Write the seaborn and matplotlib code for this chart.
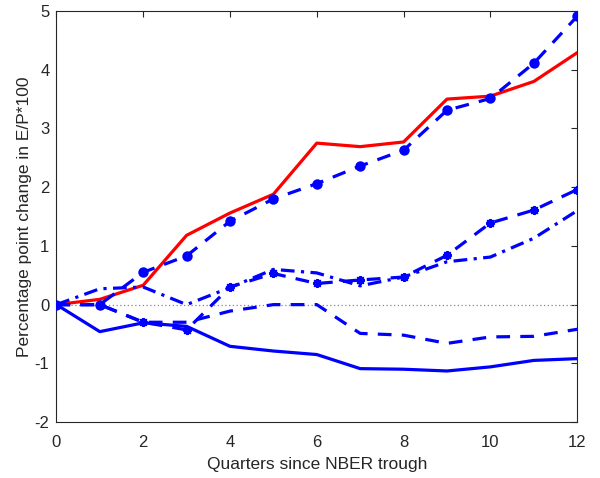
import numpy as np
import pandas as pd
import matplotlib
matplotlib.use("Agg")
import matplotlib.pyplot as plt
import seaborn as sns

sns.set_style("white")
plt.rcParams["font.family"] = ["Liberation Sans", "DejaVu Sans"]

quarters = np.arange(13)

# Percentage point change in E/P*100 by quarter since the trough
ep_actual = [0, 0.09, 0.33, 1.18, 1.56, 1.88, 2.75, 2.69, 2.77, 3.50, 3.55, 3.80, 4.29]
ep_circle = [0, 0.0, 0.55, 0.83, 1.42, 1.80, 2.06, 2.36, 2.63, 3.31, 3.51, 4.11, 4.91]
ep_star = [0, 0.0, -0.30, -0.43, 0.30, 0.53, 0.36, 0.42, 0.47, 0.84, 1.39, 1.61, 1.96]
ep_dashdot = [0, 0.27, 0.30, 0.0, 0.29, 0.60, 0.54, 0.32, 0.47, 0.73, 0.81, 1.13, 1.60]
ep_dashed = [0, 0.0, -0.30, -0.30, -0.11, 0.0, 0.0, -0.49, -0.52, -0.66, -0.55, -0.54, -0.42]
ep_solid = [0, -0.46, -0.31, -0.37, -0.71, -0.79, -0.85, -1.09, -1.10, -1.13, -1.06, -0.95, -0.92]

x_ticks = [0, 2, 4, 6, 8, 10, 12]
y_ticks = [-2, -1, 0, 1, 2, 3, 4, 5]

fig = plt.figure(figsize=(6.0, 4.78), dpi=100)
ax = fig.add_axes([0.094, 0.117, 0.868, 0.860])

lw = 2.3
dash = (0, (4.3, 3.2))
dashdot = (0, (4.3, 2.0, 1.0, 2.0))

ax.axhline(0, color="#888888", linestyle=(0, (1, 2)), linewidth=0.9, zorder=1)

series = [
    (ep_actual, dict(color="red", linestyle="-")),
    (ep_solid, dict(color="blue", linestyle="-")),
    (ep_dashed, dict(color="blue", linestyle=dash)),
    (ep_dashdot, dict(color="blue", linestyle=dashdot)),
    (ep_star, dict(color="blue", linestyle=dash, marker=(8, 2, 0),
                   markersize=6.5, markeredgewidth=1.4, markeredgecolor="blue")),
    (ep_circle, dict(color="blue", linestyle=dash, marker="o",
                     markersize=7.5, markeredgewidth=0, markerfacecolor="blue",
                     markeredgecolor="blue")),
]

for values, style in series:
    df = pd.DataFrame({"q": quarters, "v": values})
    sns.lineplot(data=df, x="q", y="v", ax=ax, linewidth=lw,
                 errorbar=None, legend=False, **style, zorder=3)

ax.set_xlim(0, 12)
ax.set_ylim(-2, 5)
ax.set_xticks(x_ticks)
ax.set_yticks(y_ticks)
ax.set_xticklabels([str(t) for t in x_ticks])
ax.set_yticklabels([str(t) for t in y_ticks])

edge = "#262626"
for s in ax.spines.values():
    s.set_visible(True)
    s.set_color(edge)
    s.set_linewidth(0.8)
ax.tick_params(direction="in", length=4, width=0.8, colors=edge,
               labelsize=12, top=True, right=True)
ax.tick_params(axis="x", pad=9)
ax.tick_params(axis="y", pad=5)
ax.set_xlabel("Quarters since NBER trough", fontsize=12.5, color=edge, labelpad=5)
ax.set_ylabel("Percentage point change in E/P*100", fontsize=12.5, color=edge, labelpad=1.5)

fig.savefig("out.png", dpi=100)
